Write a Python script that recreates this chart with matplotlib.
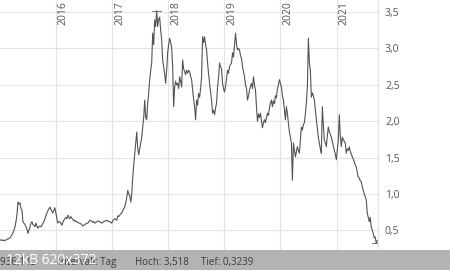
import matplotlib
matplotlib.use("Agg")
import matplotlib.pyplot as plt
import matplotlib.dates as mdates
import pandas as pd

plt.rcParams['font.family'] = ['Open Sans', 'DejaVu Sans']

# ---- data ----
start_date = "2015-01-01"
step = "156h"  # regular sampling (~6.5 days)
prices = [
    0.37, 0.37, 0.36, 0.37, 0.36, 0.36, 0.37, 0.38, 0.38, 0.39, 0.40,
    0.42, 0.44, 0.47, 0.50, 0.55, 0.62, 0.72,
    0.89, 0.86, 0.88, 0.80, 0.78,
    0.62, 0.60, 0.58, 0.55, 0.52, 0.46, 0.50,
    0.55, 0.60, 0.62, 0.58, 0.57, 0.55, 0.60, 0.56, 0.53, 0.55,
    0.56, 0.55, 0.57, 0.60, 0.62, 0.66, 0.70, 0.74, 0.77, 0.80,
    0.82, 0.79, 0.76, 0.74, 0.78, 0.81, 0.74, 0.66, 0.60, 0.62,
    0.62, 0.60, 0.57, 0.61, 0.64, 0.66, 0.68, 0.66, 0.71, 0.68,
    0.66, 0.69, 0.67, 0.65, 0.63, 0.64, 0.62, 0.62, 0.61, 0.60,
    0.60, 0.59, 0.58, 0.56, 0.57, 0.58, 0.59, 0.60, 0.60, 0.62,
    0.64, 0.63, 0.63, 0.61, 0.62, 0.60, 0.61, 0.62, 0.63, 0.62,
    0.62, 0.61, 0.60, 0.61, 0.62, 0.63, 0.63, 0.64, 0.63, 0.62,
    0.62, 0.61, 0.60, 0.63, 0.65, 0.66, 0.65, 0.64, 0.70, 0.69,
    0.71, 0.73, 0.74, 0.77, 0.80, 0.82, 0.88, 0.95, 1.05, 1.00,
    0.98, 0.89, 1.00, 1.22, 1.40, 1.55, 1.70, 1.85, 1.63, 1.54,
    1.62, 1.70, 1.78, 1.92, 2.05, 2.29, 2.05, 2.02, 2.25, 2.39,
    2.57, 2.70, 2.80, 3.21, 3.05, 3.39, 3.30, 3.518, 3.30, 3.40,
    3.43, 3.25, 3.12, 2.84, 2.75, 2.65, 2.52, 2.70, 2.94, 3.05,
    3.14, 3.08, 3.02, 2.75, 2.20, 2.47, 2.55, 2.50, 2.52, 2.45,
    2.61, 2.55, 2.47, 2.84, 2.72, 2.68, 2.64, 2.70, 2.66, 2.70,
    2.68, 2.62, 2.57, 2.43, 2.30, 2.20, 2.02, 2.29, 2.22, 2.38,
    2.33, 2.45, 2.61, 3.16, 3.08, 3.16, 3.05, 2.98, 2.80, 2.65,
    2.52, 2.40, 2.29, 2.11, 2.15, 2.09, 2.18, 2.25, 2.47, 2.60,
    2.80, 2.75, 2.72, 2.52, 2.45, 2.40, 2.48, 2.58, 2.70, 2.66,
    2.75, 2.78, 2.80, 2.94, 2.88, 3.05, 3.21, 3.05, 2.98, 3.00,
    2.98, 2.90, 2.86, 2.75, 2.68, 2.61, 2.50, 2.45, 2.29, 2.35,
    2.42, 2.48, 2.52, 2.45, 2.61, 2.50, 2.43, 2.20, 2.00, 2.10,
    2.05, 2.11, 2.00, 1.91, 1.98, 2.02, 1.98, 2.05, 2.11, 2.08,
    2.18, 2.25, 2.29, 2.20, 2.28, 2.24, 2.35, 2.32, 2.45, 2.50,
    2.57, 2.52, 2.47, 2.35, 2.29, 2.15, 2.02, 2.20, 2.10, 1.98,
    1.85, 1.78, 1.70, 1.19, 1.70, 1.60, 1.51, 1.58, 1.65, 1.60,
    1.56, 1.75, 1.92, 1.88, 1.95, 1.98, 2.10, 2.25, 2.47, 3.14,
    2.80, 2.70, 2.33, 2.39, 2.35, 2.29, 2.15, 2.02, 1.90, 1.78,
    1.70, 1.62, 1.56, 2.20, 1.95, 1.74, 1.70, 1.65, 1.80, 1.92,
    1.85, 1.82, 1.78, 1.72, 1.66, 1.60, 1.55, 1.47, 1.60, 1.74,
    2.09, 1.80, 1.65, 1.78, 1.75, 1.72, 1.70, 1.56, 1.62, 1.60,
    1.65, 1.58, 1.55, 1.51, 1.48, 1.44, 1.40, 1.37, 1.30, 1.23,
    1.22, 1.18, 1.17, 1.10, 1.05, 1.00, 0.96, 0.92, 0.74, 0.68,
    0.62, 0.68, 0.55, 0.50, 0.46, 0.40, 0.41, 0.3239, 0.36,
]
year_ticks = ["2016", "2017", "2018", "2019", "2020", "2021"]
y_ticks = [0.5, 1.0, 1.5, 2.0, 2.5, 3.0, 3.5]
high_value = 3.518
low_value = 0.3239
footer_volume = "936,1 IL"
footer_interval = "Intervall: Tag"
footer_high = "Hoch: 3,518"
footer_low = "Tief: 0,3239"
watermark = "12kB 620x372"

dates = pd.date_range(start_date, periods=len(prices), freq=step)
series = pd.Series(prices, index=dates)

# ---- figure ----
W, H = 450, 270
fig = plt.figure(figsize=(W / 100, H / 100), dpi=100)
ax = fig.add_axes([0, 20 / H, 378 / W, 250 / H])

grid_c = "#e4e4e4"
text_c = "#555555"
line_c = "#50555a"

ax.plot(series.index, series.values, color=line_c, lw=0.8, zorder=3)

# high / low markers
i_hi = series.values.argmax()
i_lo = series.values.argmin()
for i in (i_hi, i_lo):
    d = series.index[i]
    ax.plot([d - pd.Timedelta(days=28), d + pd.Timedelta(days=28)],
            [series.values[i]] * 2, color="#777777", lw=0.7, zorder=3)

ax.set_ylim(0.231, 3.665)
ax.set_xlim(series.index[0], series.index[-1] + pd.Timedelta(days=5))

for s in ax.spines.values():
    s.set_visible(False)
ax.spines["right"].set_visible(True)
ax.spines["right"].set_color(grid_c)
ax.spines["right"].set_linewidth(0.8)

ax.set_yticks(y_ticks)
ax.yaxis.tick_right()
ax.set_yticklabels([f"{v:.1f}".replace(".", ",") for v in y_ticks],
                   fontsize=7.5, color=text_c)
ax.tick_params(axis="y", length=0, pad=5)

year_dates = [pd.Timestamp(f"{y}-01-01") for y in year_ticks]
ax.set_xticks(year_dates)
ax.set_xticklabels([])
ax.tick_params(axis="x", length=0)
ax.grid(True, color=grid_c, lw=0.8, zorder=0)

for d, lab in zip(year_dates, year_ticks):
    ax.text(mdates.date2num(d) + 12, 3.665 - 0.02, lab, rotation=90,
            ha="left", va="top", fontsize=7.5, color=text_c, zorder=4)

# footer bar
bar = fig.add_axes([0, 0, 1, 20 / H])
bar.set_xlim(0, W)
bar.set_ylim(0, 20)
bar.axis("off")
bar.add_patch(plt.Rectangle((0, 0), W, 20, color="#b3b3b3"))
fy = 8
bar.text(0, fy, footer_volume, fontsize=7, color="#3c3c3c", va="center", ha="left")
bar.text(58, fy, footer_interval, fontsize=7, color="#3c3c3c", va="center", ha="left")
bar.text(135, fy, footer_high, fontsize=7, color="#3c3c3c", va="center", ha="left")
bar.text(201, fy, footer_low, fontsize=7, color="#3c3c3c", va="center", ha="left")
bar.text(6, 10, watermark, fontsize=10, color="white", va="center", ha="left")

fig.savefig("out.png", dpi=100)
